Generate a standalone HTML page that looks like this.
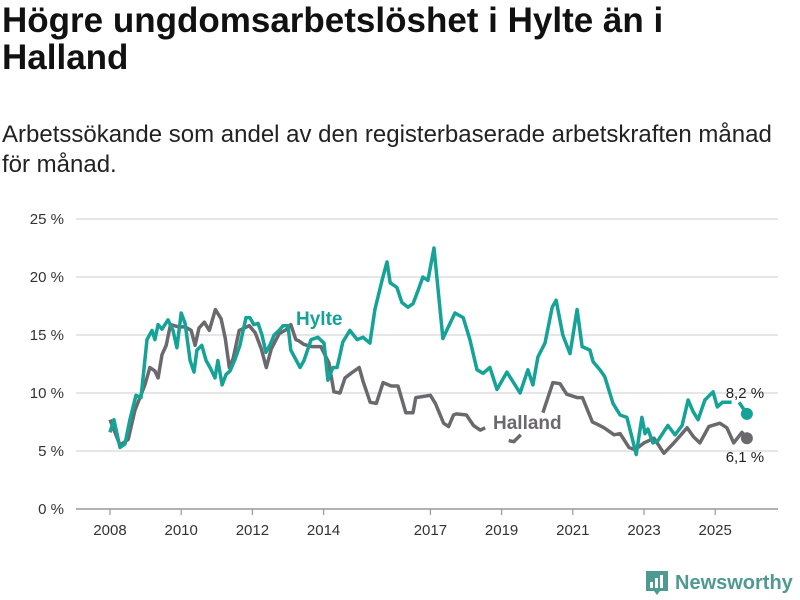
<!DOCTYPE html>
<html><head><meta charset="utf-8">
<style>
body{margin:0;background:#fff;width:800px;height:600px;overflow:hidden;font-family:"Liberation Sans","DejaVu Sans",sans-serif;}
h1{position:absolute;left:2px;top:2px;margin:0;font-size:35px;line-height:37px;font-weight:bold;color:#111;width:790px;white-space:nowrap;}
p{position:absolute;left:2px;top:120px;margin:0;font-size:24px;line-height:30px;color:#222;width:800px;white-space:nowrap;}
svg{position:absolute;left:0;top:0;}
</style></head><body>
<h1>Högre ungdomsarbetslöshet i Hylte än i<br>Halland</h1>
<p>Arbetssökande som andel av den registerbaserade arbetskraften månad<br>för månad.</p>
<svg id="chart" width="800" height="600"></svg>
<script>
const yTicks=[0,5,10,15,20,25];
const xTicks=[2008,2010,2012,2014,2017,2019,2021,2023,2025];
const hylteDates=[2008.0,2008.11,2008.28,2008.42,2008.56,2008.73,2008.87,2009.04,2009.18,2009.26,2009.35,2009.46,2009.63,2009.77,2009.88,2010.0,2010.11,2010.25,2010.36,2010.44,2010.58,2010.70,2010.81,2010.95,2011.03,2011.15,2011.26,2011.37,2011.51,2011.65,2011.82,2011.93,2012.04,2012.16,2012.27,2012.38,2012.49,2012.61,2012.75,2012.86,2013.0,2013.08,2013.34,2013.45,2013.65,2013.84,2014.01,2014.12,2014.26,2014.38,2014.46,2014.54,2014.74,2014.94,2015.11,2015.30,2015.44,2015.64,2015.78,2015.87,2016.06,2016.20,2016.37,2016.51,2016.65,2016.79,2016.93,2017.10,2017.35,2017.49,2017.69,2017.92,2018.11,2018.31,2018.48,2018.67,2018.87,2019.15,2019.52,2019.74,2019.88,2020.02,2020.22,2020.42,2020.53,2020.72,2020.92,2021.12,2021.26,2021.48,2021.57,2021.76,2021.90,2022.13,2022.33,2022.52,2022.66,2022.78,2022.94,2023.03,2023.11,2023.25,2023.39,2023.67,2023.87,2024.07,2024.24,2024.38,2024.52,2024.71,2024.94,2025.06,2025.20,2025.46,2025.56,2025.67,2025.89];
const hylteValues=[6.6,7.7,5.3,5.6,7.7,9.8,9.6,14.6,15.4,14.6,15.9,15.5,16.3,15.4,13.9,16.9,16.0,12.8,11.8,13.7,14.1,12.8,12.2,11.3,12.8,10.7,11.6,11.9,12.9,14.1,16.5,16.5,15.9,16.0,15.0,13.5,14.1,15.0,15.4,15.8,15.8,13.7,12.2,12.8,14.6,14.8,14.3,11.1,12.2,12.2,13.3,14.4,15.4,14.6,14.8,14.3,17.2,19.7,21.3,19.5,19.1,17.8,17.4,17.7,18.8,20.0,19.7,22.5,14.7,15.6,16.9,16.5,14.6,12.0,11.7,12.2,10.3,11.8,10.0,12.0,10.7,13.1,14.3,17.4,18.0,15.0,13.4,17.2,14.0,13.7,12.7,12.0,11.4,9.1,8.1,7.9,6.2,4.7,7.9,6.5,6.9,5.7,5.9,7.2,6.4,7.2,9.4,8.4,7.7,9.4,10.1,8.8,9.2,9.2,null,9.2,8.2];
const hallandDates=[2008.0,2008.28,2008.51,2008.70,2008.98,2009.12,2009.26,2009.35,2009.46,2009.58,2009.70,2009.93,2010.11,2010.28,2010.39,2010.50,2010.65,2010.79,2010.96,2011.12,2011.24,2011.35,2011.46,2011.63,2011.91,2012.08,2012.25,2012.39,2012.53,2012.75,2012.97,2013.08,2013.22,2013.30,2013.44,2013.66,2013.92,2014.15,2014.29,2014.46,2014.60,2014.77,2015.0,2015.11,2015.31,2015.48,2015.67,2015.90,2016.09,2016.31,2016.51,2016.59,2016.79,2017.0,2017.14,2017.37,2017.51,2017.65,2017.73,2018.01,2018.21,2018.40,2018.54,2018.8,2019.20,2019.34,2019.54,2019.9,2020.16,2020.44,2020.64,2020.83,2021.12,2021.27,2021.55,2021.69,2021.88,2022.16,2022.33,2022.58,2022.75,2023.0,2023.28,2023.56,2023.84,2024.21,2024.40,2024.57,2024.82,2025.13,2025.33,2025.52,2025.75,2025.89];
const hallandValues=[7.7,5.5,6.0,8.5,10.7,12.2,11.9,11.3,13.3,14.1,15.9,15.7,15.7,15.4,14.1,15.6,16.1,15.4,17.2,16.4,14.7,12.2,13.0,15.4,15.8,15.2,13.8,12.2,13.8,15.1,15.5,15.9,14.6,14.5,14.2,14.0,14.0,12.6,10.1,10.0,11.3,11.7,12.2,11.0,9.2,9.1,10.9,10.6,10.6,8.3,8.3,9.6,9.7,9.8,9.1,7.4,7.1,8.1,8.2,8.1,7.2,6.8,7.0,null,5.9,5.8,6.4,null,8.3,10.9,10.8,9.9,9.6,9.6,7.5,7.3,7.0,6.4,6.5,5.3,5.1,5.7,6.1,4.8,5.7,7.0,6.2,5.7,7.1,7.4,7.0,5.7,6.6,6.1];
const NS="http://www.w3.org/2000/svg";
const svg=document.getElementById('chart');
const X=y=>110+(y-2008)*35.6;
const Y=v=>509-v*11.6;
function mk(t,a){const e=document.createElementNS(NS,t);for(const k in a)e.setAttribute(k,a[k]);svg.appendChild(e);return e;}
yTicks.forEach(t=>{
  const l=mk('line',{x1:76,x2:778,y1:Y(t),y2:Y(t),stroke:t===0?'#999':'#ddd','stroke-width':1.5});
  
  
  const tx=mk('text',{x:64,y:Y(t)+5,'text-anchor':'end','font-size':15,fill:'#333'});
  tx.textContent=t+' %';
  
  
});
xTicks.forEach(t=>{
  const l=mk('line',{x1:X(t),x2:X(t),y1:509,y2:515,stroke:'#999','stroke-width':1.2});
  
  
  const tx=mk('text',{x:X(t),y:535,'text-anchor':'middle','font-size':15,fill:'#333'});
  tx.textContent=t;
  
  
});
function path(d,v){let s='',pen=false;for(let i=0;i<d.length;i++){if(v[i]===null){pen=false;continue;}s+=(pen?'L':'M')+X(d[i]).toFixed(1)+','+Y(v[i]).toFixed(1);pen=true;}return s;}
const hp=mk('path',{d:path(hallandDates,hallandValues),fill:'none',stroke:'#6b696e','stroke-width':3.5,'stroke-linejoin':'round'});


const yp=mk('path',{d:path(hylteDates,hylteValues),fill:'none',stroke:'#14a396','stroke-width':3.5,'stroke-linejoin':'round'});


const hl=hallandDates.length-1, yl=hylteDates.length-1;
const d1=mk('circle',{cx:X(hallandDates[hl]),cy:Y(hallandValues[hl]),r:6,fill:'#6b696e'});


const d2=mk('circle',{cx:X(hylteDates[yl]),cy:Y(hylteValues[yl]),r:6,fill:'#14a396'});


const l1=mk('text',{x:X(hylteDates[yl])-2,y:Y(hylteValues[yl])-16,'text-anchor':'middle','font-size':15,fill:'#222'});
l1.textContent=hylteValues[yl].toFixed(1).replace('.',',')+' %';


const l2=mk('text',{x:X(hallandDates[hl])-2,y:Y(hallandValues[hl])+24,'text-anchor':'middle','font-size':15,fill:'#222'});
l2.textContent=hallandValues[hl].toFixed(1).replace('.',',')+' %';


const s1=mk('text',{x:296,y:325,'font-size':19,'font-weight':'bold',fill:'#14a396'});
s1.textContent='Hylte';


const s2=mk('text',{x:493,y:429,'font-size':19,'font-weight':'bold',fill:'#6b696e'});
s2.textContent='Halland';


</script>
<div style="position:absolute;left:645px;top:570px;display:flex;align-items:center;">
<svg width="24" height="26" viewBox="0 0 24 26" style="position:static"><path d="M1 1h22v20h-8l-3 4-3-4H1z" fill="#4f9a90"/><rect x="5" y="12" width="3" height="6" fill="#fff"/><rect x="10" y="8" width="3" height="10" fill="#fff"/><rect x="15" y="5" width="3" height="13" fill="#fff"/></svg>
<span style="font-size:20px;font-weight:bold;color:#4f9a90;margin-left:6px;">Newsworthy</span></div>
</body></html>
